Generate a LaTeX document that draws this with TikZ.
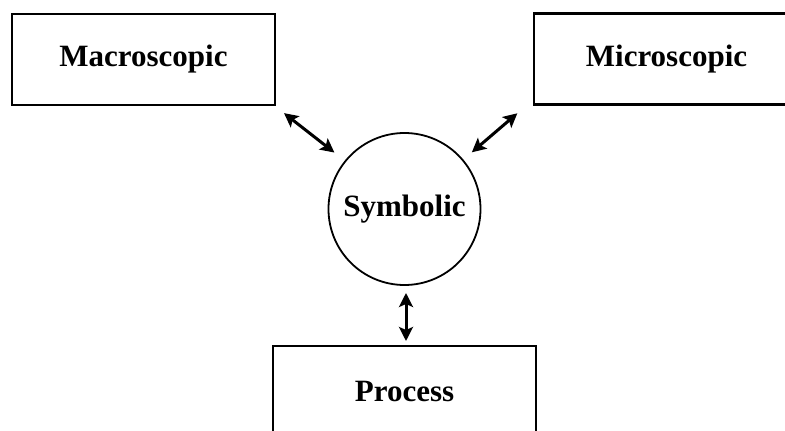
\documentclass[tikz,border=0pt]{standalone}
\usepackage{fontspec}
\setmainfont{Liberation Serif}
\usetikzlibrary{arrows.meta,calc}
\begin{document}
\begin{tikzpicture}[x=1pt,y=1pt,
  label text/.style={font=\fontsize{31}{37}\selectfont\bfseries},
  boxnode/.style={draw, line width=2.2pt, minimum width=263pt, minimum height=91pt,
    inner sep=0pt, outer sep=0pt, label text},
  roundnode/.style={draw, circle, line width=1.8pt, minimum size=152pt,
    inner sep=0pt, outer sep=0pt, label text},
  link/.style={line width=3pt, {Stealth[length=14pt,width=14pt,inset=3pt]}-{Stealth[length=14pt,width=14pt,inset=3pt]}}]
  \clip (0,0) rectangle (785,431);
  % the four views
  \node[boxnode] (macro) at (143.5,371.5) {Macroscopic};
  \node[boxnode, minimum width=265pt] (micro) at (666.5,372) {Microscopic};
  \node[roundnode] (sym) at (404.5,222) {Symbolic};
  \node[boxnode] (proc) at (404.5,39.5) {Process};
  % outer ends of the diagonal links
  \coordinate (mlink) at ($(sym.center)+(141.5:154)$);
  \coordinate (rlink) at ($(sym.center)+(40.3:148)$);
  % links
  \draw[link, shorten >=14pt] (mlink) -- (sym.141.5);
  \draw[link, shorten >=12pt] (rlink) -- (sym.40.3);
  \draw[link, shorten <=8pt, shorten >=5pt] ([xshift=1.5pt]sym.south) -- ([xshift=1.5pt]proc.north);
\end{tikzpicture}
\end{document}
